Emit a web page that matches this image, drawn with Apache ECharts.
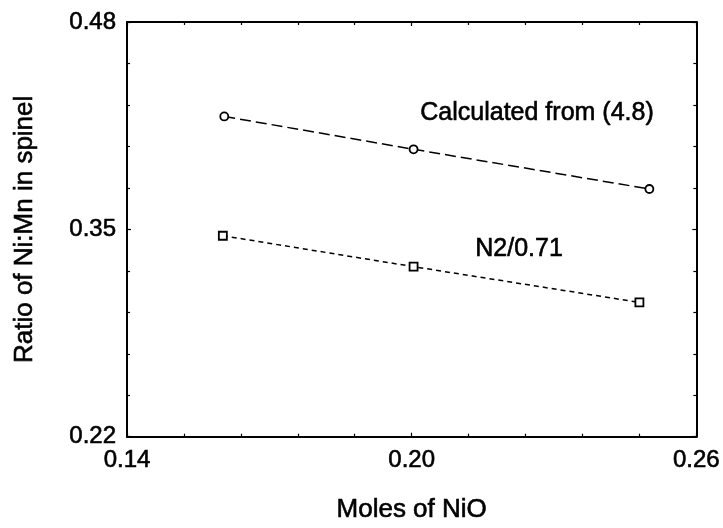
<!DOCTYPE html>
<html>
<head>
<meta charset="utf-8">
<script src="https://cdn.jsdelivr.net/npm/echarts@6/dist/echarts.min.js"></script>
<style>
  html, body { margin: 0; padding: 0; background: #fff; }
  #chart { width: 723px; height: 528px; }
</style>
</head>
<body>
<div id="chart"></div>
<script>
// 数据
const molesNiO = [0.1605, 0.2004, 0.2501]
const molesNiO2 = [0.1602, 0.2004, 0.2480]
const calculated = [0.4208, 0.4002, 0.3753]
const n2 = [0.3460, 0.3266, 0.3042]
const xTicks = [0.14, 0.20, 0.26]
const yTicks = [0.22, 0.35, 0.48]

const font = 'Liberation Sans, Arial, sans-serif'
// 扫描件文字偏粗，用细描边加重
const heavy = { textBorderColor: '#000', textBorderWidth: 0.6 }
const mChart = echarts.init(document.getElementById('chart'))

// 坐标轴公共样式
const axisBase = (show, margin) => ({
  axisLine: { show: true, lineStyle: { color: '#000', width: 2 } },
  axisTick: { show: true, inside: true, length: 4, lineStyle: { color: '#000', width: 1.2 } },
  minorTick: { show: true, splitNumber: 5, length: 3, lineStyle: { color: '#000', width: 1.2 } },
  splitLine: { show: false },
  axisLabel: {
    show: show,
    margin: margin,
    color: '#000',
    fontFamily: font,
    fontSize: 24,
    ...heavy,
    formatter: (v) => v.toFixed(2)
  }
})

const options = {
  backgroundColor: '#fff',
  animation: false,
  grid: { left: 127, right: 24, top: 22, bottom: 89 },
  xAxis: [
    {
      type: 'value',
      min: xTicks[0],
      max: xTicks[2],
      interval: xTicks[1] - xTicks[0],
      name: 'Moles of NiO',
      nameLocation: 'middle',
      nameGap: 60,
      nameTextStyle: { color: '#000', fontFamily: font, fontSize: 26, ...heavy },
      ...axisBase(true, 12)
    },
    {
      type: 'value',
      position: 'top',
      min: xTicks[0],
      max: xTicks[2],
      interval: xTicks[1] - xTicks[0],
      ...axisBase(false, 8)
    }
  ],
  yAxis: [
    {
      type: 'value',
      min: yTicks[0],
      max: yTicks[2],
      interval: yTicks[1] - yTicks[0],
      name: 'Ratio of Ni:Mn in spinel',
      nameLocation: 'middle',
      nameGap: 89,
      nameTextStyle: { color: '#000', fontFamily: font, fontSize: 26, ...heavy },
      ...axisBase(true, 11)
    },
    {
      type: 'value',
      position: 'right',
      min: yTicks[0],
      max: yTicks[2],
      interval: yTicks[1] - yTicks[0],
      ...axisBase(false, 8)
    }
  ],
  // 注释文字
  graphic: [
    {
      type: 'text',
      left: 420,
      top: 100,
      style: { text: 'Calculated from (4.8)', fill: '#000', font: '25px ' + font, stroke: '#000', lineWidth: 0.6 }
    },
    {
      type: 'text',
      left: 475,
      top: 236,
      style: { text: 'N2/0.71', fill: '#000', font: '25px ' + font, stroke: '#000', lineWidth: 0.6 }
    }
  ],
  series: [
    {
      name: 'Calculated from (4.8)',
      type: 'line',
      data: molesNiO.map((x, i) => [x, calculated[i]]),
      symbol: 'circle',
      symbolSize: 8,
      itemStyle: { color: '#fff', borderColor: '#000', borderWidth: 1.8 },
      lineStyle: { color: '#000', width: 1.5, type: [11, 5] }
    },
    {
      name: 'N2/0.71',
      type: 'line',
      data: molesNiO2.map((x, i) => [x, n2[i]]),
      symbol: 'rect',
      symbolSize: 8,
      itemStyle: { color: '#fff', borderColor: '#000', borderWidth: 1.8 },
      lineStyle: { color: '#000', width: 1.5, type: [5, 4] }
    }
  ]
}
mChart.setOption(options)
</script>
</body>
</html>
